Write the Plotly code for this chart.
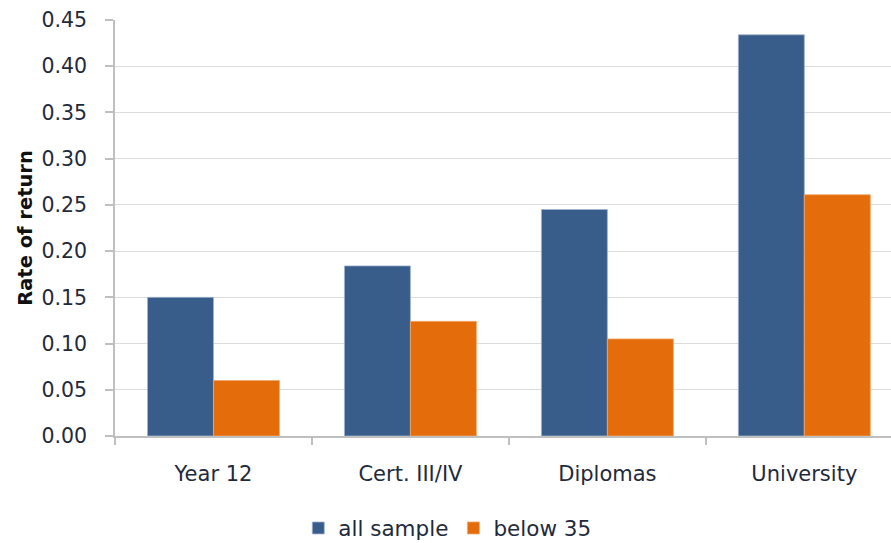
import plotly.graph_objects as go

categories = ["Year 12", "Cert. III/IV", "Diplomas", "University"]
all_sample = [0.150, 0.184, 0.245, 0.434]
below_35 = [0.060, 0.124, 0.105, 0.261]
y_ticks = [0.00, 0.05, 0.10, 0.15, 0.20, 0.25, 0.30, 0.35, 0.40, 0.45]

font_family = "DejaVu Sans"
text_color = "#1F2A3C"

fig = go.Figure()
fig.add_trace(go.Bar(x=categories, y=all_sample, name="all sample",
                     marker=dict(color="#385D8A", line=dict(color="#9FB3CF", width=0.8))))
fig.add_trace(go.Bar(x=categories, y=below_35, name="below 35",
                     marker=dict(color="#E46C0A", line=dict(color="#F2A66A", width=0.8))))

fig.update_layout(
    width=891, height=543,
    paper_bgcolor="white", plot_bgcolor="white",
    margin=dict(l=115, r=0, t=20, b=107, autoexpand=False),
    barmode="group", bargap=0.33, bargroupgap=0,
    font=dict(family=font_family, size=20, color=text_color),
    showlegend=True,
    legend=dict(orientation="h", xref="container", yref="container",
                x=0.502, xanchor="center", y=1 - 528 / 543, yanchor="middle",
                font=dict(size=21.5, color=text_color), itemwidth=30,
                traceorder="normal"),
)
fig.update_xaxes(
    range=[-0.5, 3.44], showgrid=False, showline=True, linecolor="#BFBFBF", linewidth=1.5,
    ticks="outside", tickson="boundaries", ticklen=7, tickcolor="#BFBFBF", tickwidth=1.5,
    ticklabelstandoff=18, tickfont=dict(size=21, color=text_color), automargin=False,
)
fig.update_yaxes(
    range=[0, 0.45], tickvals=y_ticks, tickformat=".2f",
    showgrid=True, gridcolor="#DDDDDD", gridwidth=1.2,
    showline=True, linecolor="#BFBFBF", linewidth=1.5,
    ticks="outside", ticklen=8, tickcolor="#BFBFBF", tickwidth=1.5,
    ticklabelstandoff=14, tickfont=dict(size=20.5, color=text_color), zeroline=False,
    automargin=False,
    title=dict(text="<b>Rate of return</b>", font=dict(size=19.5, color="#111111"), standoff=4),
)

fig.write_html("out.html", config={"displayModeBar": False},
               post_script="document.body.style.margin='0px';document.body.style.overflow='hidden';")
